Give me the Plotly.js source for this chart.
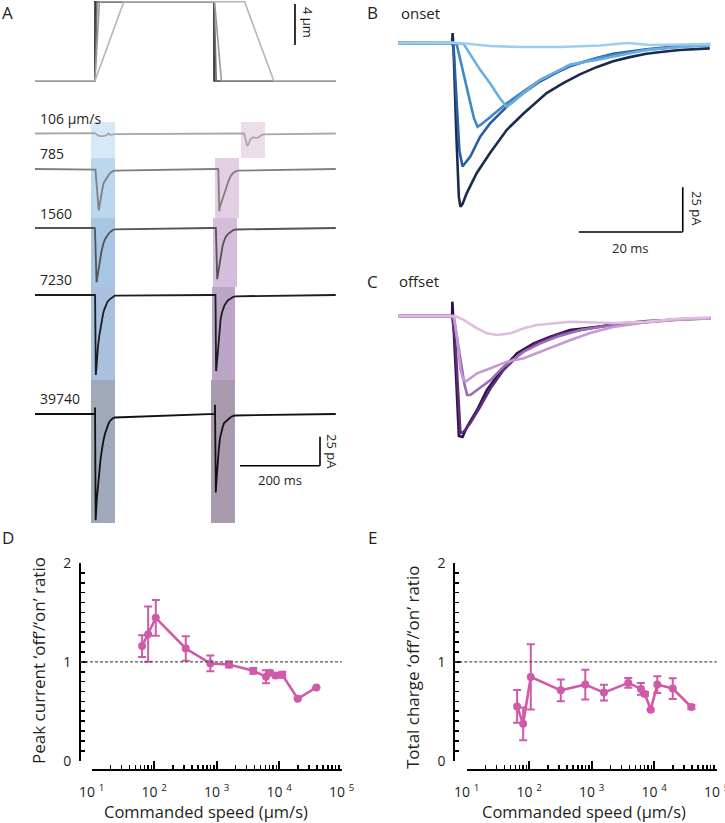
<!DOCTYPE html>
<html><head><meta charset="utf-8">
<script src="https://cdn.plot.ly/plotly-3.0.1.min.js"></script>
<style>html,body{margin:0;padding:0;background:#fff}#chart{width:725px;height:823px}</style>
</head><body><div id="chart"></div>
<script>
// ---------- DATA ----------
const speedLabels = ['106 µm/s', '785', '1560', '7230', '39740'];
// stimulus (panel A top): time ms, displacement µm
const stimDisp = [0, 0, 7.7, 7.7, 0, 0];
const stimT106 = [0, 150, 222, 524, 597, 752];
const stimT785 = [0, 150, 161, 449, 466, 752];
const stimT1560 = [0, 150, 155, 448, 453, 752];
const stimT7230 = [0, 150, 151, 447.5, 449, 752];
const stimT39740 = [0, 150, 150.3, 447.5, 447.8, 752];

// onset responses (panel B): ms from onset, pA
const bT106 = [-10.4, 0, 3.5, 7.3, 13.1, 20.8, 28.5, 33.7, 38.1, 49.8];
const bI106 = [0, 0.3, -0.6, -1.7, -2.2, -2.2, -1.4, 0, -1.1, -0.6];
const bT785 = [-10.4, 0, 2.2, 4.1, 5.4, 7.3, 9.2, 10.5, 11.8, 13.7, 16.9, 20.1, 22.7, 27.8, 31, 37.4, 43.8, 49.6];
const bI785 = [0, 0, -0.5, -9.5, -15, -22.5, -30.9, -35.6, -32.8, -28.1, -20.7, -16, -12, -9.5, -7.5, -3.9, -2.2, -1.4];
const bT1560 = [-10.4, 0, 0.9, 2.8, 4.2, 4.9, 5.6, 7.3, 10.5, 13.7, 16.9, 20.1, 22.7, 27.8, 31, 37.4, 43.8, 49.6];
const bI1560 = [0, 0, -1, -24.4, -42, -46.8, -45.5, -41.5, -33.7, -27.2, -20.7, -16, -12.5, -8.5, -6.7, -3.9, -2.1, -1.1];
const bT7230 = [-10.4, 0, 0.3, 0.8, 1.4, 2.0, 3.5, 5.4, 7.3, 10.5, 13.7, 16.9, 20.1, 22.7, 27.8, 31, 37.4, 43.8, 49.6];
const bI7230 = [0, 0, -3, -30, -60, -69, -63.5, -52.3, -44.9, -35.6, -28.1, -21.5, -16.5, -13, -8.4, -6, -3.5, -1.7, -0.6];
const bT39740 = [-10.4, 0, 0.1, 0.3, 0.8, 1.3, 1.6, 2.0, 2.8, 4.75, 7.3, 10.5, 13.7, 16.9, 18.2, 21.3, 24.6, 27.8, 31, 34.2, 37.4, 40.6, 43.8, 49.6];
const bI39740 = [0, 0, 5.6, -5, -50, -86, -91.5, -90, -84, -72.6, -61.5, -48.6, -39.5, -31.5, -28, -22.5, -17.5, -13.5, -10.2, -7.9, -6, -4.9, -3.9, -3];

// offset responses (panel C): ms from offset, pA
const cT106 = [-10.3, 0, 0.6, 2.2, 4.8, 6.7, 8.7, 11.2, 13.8, 16.3, 20.2, 22.8, 31, 37.5, 43.9, 49.7];
const cI106 = [0, 0, 0, -2.2, -6.9, -9.7, -10.6, -9.7, -6.9, -5, -4.1, -3.2, -3.9, -3.2, -1.4, -0.8];
const cT785 = [-10.3, 0, 0.4, 1, 1.6, 2.2, 2.8, 4.8, 7.4, 10.6, 13.8, 17, 20.2, 22.8, 26.6, 31, 37.5, 43.9, 49.7];
const cI785 = [0, 0, -1.1, -13.4, -30.2, -35.8, -36.3, -32, -29.2, -25.5, -23.6, -19.9, -16.2, -13.4, -9.5, -6.1, -3.4, -2, -1.4];
const cT1560 = [-10.3, 0, 0.4, 1.2, 1.9, 2.4, 2.9, 3.5, 4.8, 7.4, 9.9, 13.8, 17, 20.2, 24.7, 31, 37.5, 43.9, 49.7];
const cI1560 = [0, 0, -2.2, -16.2, -28.3, -38.5, -44.1, -44.1, -41.3, -35.8, -28.3, -19.9, -15.3, -11.6, -7.8, -5, -3.1, -1.8, -1.3];
const cT7230 = [-10.3, 0, 0.6, 1.2, 1.6, 2.2, 3.5, 5.4, 7.4, 9.9, 13.1, 16.3, 20.2, 22.8, 31, 37.5, 43.9, 49.7];
const cI7230 = [0, 0, -13.4, -46.9, -65.5, -64.8, -59.8, -50.7, -40.4, -30.2, -20.8, -15.3, -10.6, -8.8, -4.7, -2.8, -1.7, -1.1];
const cT39740 = [-10.3, 0, 0.05, 0.25, 0.8, 1.3, 2, 2.9, 4.8, 6.7, 9.3, 12.5, 15.7, 18.9, 22.7, 31, 37.5, 43.9, 49.7];
const cI39740 = [0, 0, 8, -2.2, -35.8, -67, -67.6, -61.8, -52.5, -41.3, -31.1, -20.8, -15.3, -11.6, -7.8, -5, -3.2, -1.8, -1.3];

// panels D / E
const speeds = [64, 80, 106, 320, 790, 1570, 3850, 6150, 7130, 8790, 11200, 19800, 39300];
const peakRatio = [1.16, 1.28, 1.445, 1.135, 0.984, 0.973, 0.909, 0.849, 0.889, 0.862, 0.869, 0.626, 0.741];
const peakErr = [0.11, 0.28, 0.18, 0.125, 0.08, 0.03, 0.03, 0.065, 0.02, 0.02, 0.03, 0, 0];
const chargeRatio = [0.549, 0.373, 0.848, 0.712, 0.77, 0.689, 0.787, 0.726, 0.675, 0.516, 0.77, 0.73, 0.543];
const chargeErr = [0.166, 0.165, 0.33, 0.11, 0.15, 0.08, 0.05, 0.06, 0.02, 0, 0.085, 0.105, 0.02];
const xTickVals = [10, 100, 1000, 10000, 100000];
const xTickText = ['10 <sup>1</sup>', '10 <sup>2</sup>', '10 <sup>3</sup>', '10 <sup>4</sup>', '10 <sup>5</sup>'];

// ---------- LAYOUT HELPERS ----------
const W = 725, H = 823;
const xd = (a, b) => [a / W, b / W];
const yd = (top, bot) => [1 - bot / H, 1 - top / H];
const FONT = 'Open Sans, sans-serif';
const TXT = '#231f20';

const stimCols = ['#b5b5b5', '#9a9a9a', '#6e6e6e', '#3c3c3c', '#1a1a1a'];
const traceCols = ['#a8a8a8', '#7f7f7f', '#545454', '#1e1e1e', '#111111'];
const blueCols = ['#9ccfef', '#6aaedf', '#3f87c7', '#2a5f9e', '#1a2b4c'];
const purpCols = ['#dfbedd', '#c49ad0', '#9b6cb8', '#5c2c7e', '#33123f'];
const boxBlue = ['#d6e9f6', '#bbd7ee', '#a7c6e4', '#a9c1de', '#a0a9b9'];
const boxPink = ['#eddde9', '#e4cee4', '#d6bddb', '#bba6c8', '#a99bae'];

const stimT = [stimT106, stimT785, stimT1560, stimT7230, stimT39740];
const bT = [bT106, bT785, bT1560, bT7230, bT39740], bI = [bI106, bI785, bI1560, bI7230, bI39740];
const cT = [cT106, cT785, cT1560, cT7230, cT39740], cI = [cI106, cI785, cI1560, cI7230, cI39740];
const onShift = [150, 149, 149, 150, 150];
const offShift = [522, 458, 452, 451, 450];

// rows of panel A (pixel layout): baseline, top, bottom
const rowBase = [133.5, 169, 228, 295, 414];
const rowTop = [112, 150, 205, 275, 390];
const rowBot = [160, 220, 290, 385, 530];
const PXPA = 1.16; // px per pA in panel A
const boxRowTop = [122, 158, 218, 287, 380];
const boxRowBot = [158, 218, 287, 380, 523];
const boxBlueT = [[140, 200], [140, 200], [140, 200], [140, 200], [140, 200]];
const boxPinkT = [[515, 575], [450, 510], [445, 505], [442.5, 500], [440, 500]];

const traces = [];
const layout = {
  width: W, height: H, margin: {l: 0, r: 0, t: 0, b: 0},
  paper_bgcolor: '#fff', plot_bgcolor: 'rgba(0,0,0,0)', showlegend: false,
  font: {family: FONT, color: TXT},
  shapes: [], annotations: []
};
const hid = {visible: false, fixedrange: true};
function note(x, y, text, size, extra) {
  layout.annotations.push(Object.assign({xref: 'paper', yref: 'paper', x: x / W, y: 1 - y / H, text: text,
    xanchor: 'center', yanchor: 'middle', showarrow: false, font: {size: size, color: TXT, family: FONT}}, extra || {}));
}

// panel A stimulus
layout.xaxis = Object.assign({domain: xd(30, 340), range: [-12.5, 762.5], anchor: 'y'}, hid);
layout.yaxis = Object.assign({domain: yd(0, 84), range: [-(84 - 80.7) / 10.25, 80.7 / 10.25], anchor: 'x'}, hid);
[4, 3, 2, 1, 0].forEach(i => {
  traces.push({x: stimT[i], y: stimDisp, xaxis: 'x', yaxis: 'y', mode: 'lines',
    line: {color: stimCols[i], width: 1.6}, hoverinfo: 'skip'});
});
layout.shapes.push({type: 'line', xref: 'x', yref: 'y', x0: 650, x1: 650, y0: (80.7 - 45) / 10.25, y1: (80.7 - 4) / 10.25, line: {color: '#000', width: 1.6}});
note(308, 22, '4 µm', 13, {textangle: 90});

// panel A traces
for (let i = 0; i < 5; i++) {
  const ax = 'yaxis' + (i + 2), ref = 'y' + (i + 2);
  layout[ax] = Object.assign({domain: yd(rowTop[i], rowBot[i]), anchor: 'x',
    range: [-(rowBot[i] - rowBase[i]) / PXPA, (rowBase[i] - rowTop[i]) / PXPA]}, hid);
  const t = [0], y = [0];
  bT[i].forEach((v, k) => { t.push(v + onShift[i]); y.push(bI[i][k]); });
  cT[i].forEach((v, k) => { t.push(v + offShift[i]); y.push(cI[i][k]); });
  t.push(752); y.push(0);
  traces.push({x: t, y: y, xaxis: 'x', yaxis: ref, mode: 'lines', line: {color: traceCols[i], width: 1.8}, hoverinfo: 'skip'});
  layout.shapes.push({type: 'rect', layer: 'below', xref: 'x', yref: 'paper', x0: boxBlueT[i][0], x1: boxBlueT[i][1],
    y0: 1 - boxRowBot[i] / H, y1: 1 - boxRowTop[i] / H, fillcolor: boxBlue[i], line: {width: 0}});
  layout.shapes.push({type: 'rect', layer: 'below', xref: 'x', yref: 'paper', x0: boxPinkT[i][0], x1: boxPinkT[i][1],
    y0: 1 - boxRowBot[i] / H, y1: 1 - boxRowTop[i] / H, fillcolor: boxPink[i], line: {width: 0}});
  note(38, rowBase[i] - 15, speedLabels[i], 14, {xanchor: 'left'});
}
// A scale bar (on row 39740 axis)
layout.shapes.push({type: 'line', xref: 'x', yref: 'y6', x0: 512.5, x1: 712.5, y0: -44.6, y1: -44.6, line: {color: '#000', width: 1.6}});
layout.shapes.push({type: 'line', xref: 'x', yref: 'y6', x0: 712.5, x1: 712.5, y0: -44.6, y1: -19.6, line: {color: '#000', width: 1.6}});
note(280, 480, '200 ms', 13);
note(332, 451, '25 pA', 13, {textangle: 90});

// panels B and C
layout.xaxis2 = Object.assign({domain: xd(396, 716), range: [-10.8, 50.8], anchor: 'y7'}, hid);
layout.yaxis7 = Object.assign({domain: yd(20, 240), range: [-(240 - 43) / 1.79, (43 - 20) / 1.79], anchor: 'x2'}, hid);
layout.yaxis8 = Object.assign({domain: yd(290, 460), range: [-(460 - 316) / 1.79, (316 - 290) / 1.79], anchor: 'x2'}, hid);
[4, 3, 2, 1, 0].forEach(i => {
  traces.push({x: bT[i], y: bI[i], xaxis: 'x2', yaxis: 'y7', mode: 'lines', line: {color: blueCols[i], width: 2.6}, hoverinfo: 'skip'});
  traces.push({x: cT[i], y: cI[i], xaxis: 'x2', yaxis: 'y8', mode: 'lines', line: {color: purpCols[i], width: 2.6}, hoverinfo: 'skip'});
});
layout.shapes.push({type: 'line', xref: 'x2', yref: 'y7', x0: 24.4, x1: 44.4, y0: -105.6, y1: -105.6, line: {color: '#000', width: 1.6}});
layout.shapes.push({type: 'line', xref: 'x2', yref: 'y7', x0: 44.4, x1: 44.4, y0: -105.6, y1: -80.6, line: {color: '#000', width: 1.6}});
note(630, 248, '20 ms', 13);
note(697, 208, '25 pA', 13, {textangle: 90});

// panels D and E
const MAG = '#d05aa8';
function ratioAxes(xn, yn, xPx0, yAxisPx) {
  const minorX = [];
  for (let d = 10; d < 100000; d *= 10) for (let m = 2; m <= 9; m++) minorX.push(d * m);
  const minorY = [];
  for (let k = 1; k < 20; k++) if (k !== 10) minorY.push(k / 10);
  layout['xaxis' + xn] = {type: 'log', domain: xd(xPx0, xPx0 + 250), range: [1, 5], anchor: 'free', position: 1 - 770 / H,
    side: 'bottom', showline: true, linecolor: '#000', linewidth: 2, showgrid: false, zeroline: false, fixedrange: true,
    ticks: 'inside', ticklen: 8, tickwidth: 2, tickcolor: '#000', tickmode: 'array', tickvals: xTickVals, ticktext: xTickText,
    ticklabelstandoff: 9, ticklabeloverflow: 'allow', tickfont: {size: 14, color: TXT, family: FONT},
    minor: {tickmode: 'array', tickvals: minorX, ticks: 'inside', ticklen: 4, tickwidth: 1.6, tickcolor: '#000', showgrid: false}};
  layout['yaxis' + yn] = {domain: yd(563, 760.7), range: [0, 2], anchor: 'free', position: yAxisPx / W,
    side: 'left', showline: true, linecolor: '#000', linewidth: 2, showgrid: false, zeroline: false, fixedrange: true,
    ticks: 'inside', ticklen: 6, tickwidth: 2, tickcolor: '#000', tickmode: 'array', tickvals: [0, 1, 2], ticktext: ['0', '1', '2'],
    ticklabelstandoff: 5, tickfont: {size: 14, color: TXT, family: FONT},
    minor: {tickmode: 'array', tickvals: minorY, ticks: 'inside', ticklen: 4, tickwidth: 1.6, tickcolor: '#000', showgrid: false}};
  layout.shapes.push({type: 'line', xref: 'paper', yref: 'y' + yn, x0: yAxisPx / W, x1: (xPx0 + 250) / W, y0: 1, y1: 1,
    line: {color: '#555', width: 1.2, dash: '3px,2px'}});
}
ratioAxes(3, 9, 91.7, 80);
ratioAxes(4, 10, 466.7, 454.3);
traces.push({x: speeds, y: peakRatio, xaxis: 'x3', yaxis: 'y9', mode: 'lines+markers', cliponaxis: false,
  line: {color: MAG, width: 2.6}, marker: {color: MAG, size: 8},
  error_y: {type: 'data', array: peakErr, visible: true, color: MAG, thickness: 2, width: 4}, hoverinfo: 'skip'});
traces.push({x: speeds, y: chargeRatio, xaxis: 'x4', yaxis: 'y10', mode: 'lines+markers', cliponaxis: false,
  line: {color: MAG, width: 2.6}, marker: {color: MAG, size: 8},
  error_y: {type: 'data', array: chargeErr, visible: true, color: MAG, thickness: 2, width: 4}, hoverinfo: 'skip'});

// axis titles
note(206, 811, 'Commanded speed (µm/s)', 16.5);
note(584, 811, 'Commanded speed (µm/s)', 16.5);
note(38, 661, 'Peak current ‘off’/‘on’ ratio', 17, {textangle: -90});
note(412, 668, 'Total charge ‘off’/‘on’ ratio', 17, {textangle: -90});

// panel letters and sub-titles
[['A', 7, 13], ['B', 372, 13], ['C', 372, 281], ['D', 8, 537], ['E', 372, 537]].forEach(([t, x, y]) => note(x, y, t, 17));
note(399, 13, 'onset', 15, {xanchor: 'left'});
note(397, 281, 'offset', 15, {xanchor: 'left'});

Plotly.newPlot('chart', traces, layout, {staticPlot: true, displayModeBar: false});
</script></body></html>
